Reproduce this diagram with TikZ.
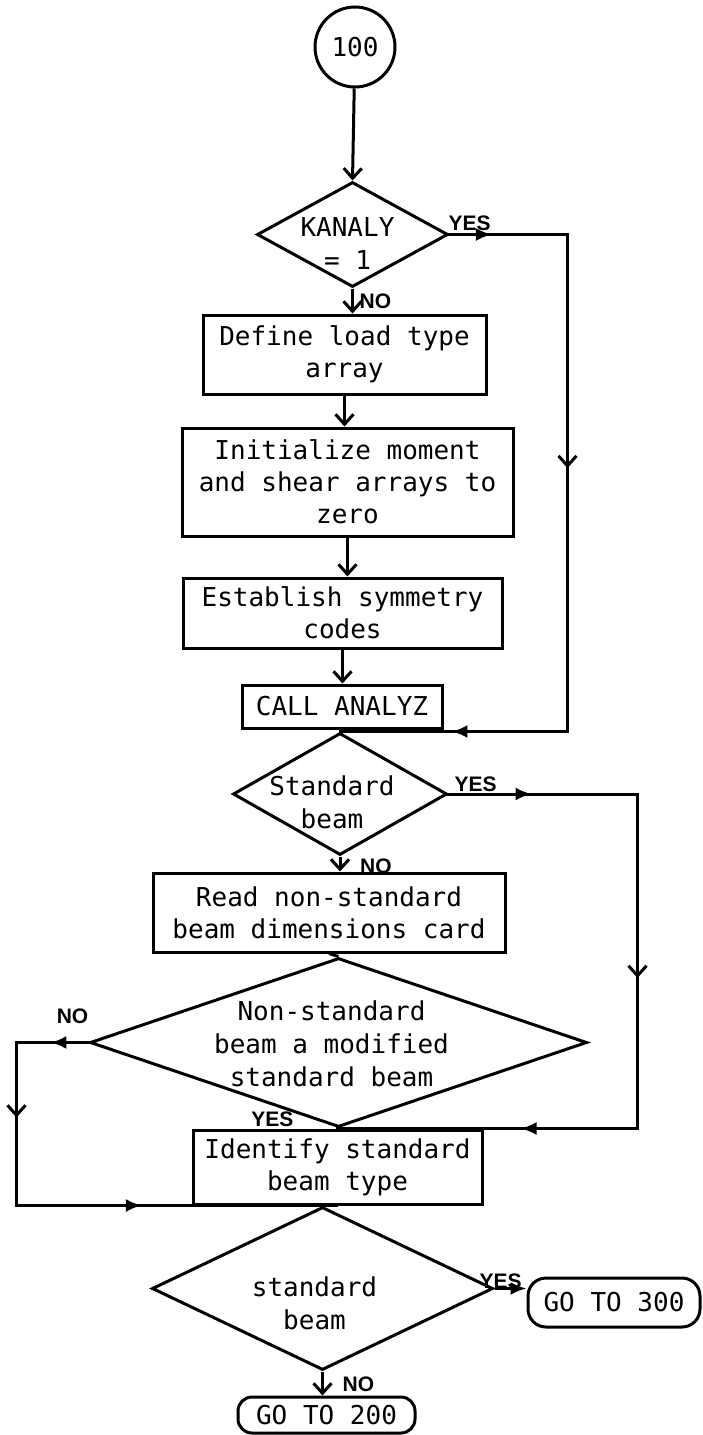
\documentclass[tikz,border=0pt]{standalone}
\usepackage{fontspec}
\setmonofont{DejaVu Sans Mono}
\setsansfont{Liberation Sans}
\usetikzlibrary{arrows.meta}
\usetikzlibrary{shapes.geometric}
\usetikzlibrary{decorations.markings}
\usetikzlibrary{positioning}
\tikzset{
    flow box/.style={
        draw,
        rectangle,
        line width=3pt,
        align=center,
        inner sep=0pt,
        font=\ttfamily\fontsize{26}{32}\selectfont
    },
    decision/.style={
        draw,
        diamond,
        line width=3pt,
        inner sep=0pt
    },
    decision text/.style={
        align=center,
        inner sep=0pt,
        font=\ttfamily\fontsize{26}{33}\selectfont
    },
    terminal/.style={
        flow box,
        rounded corners=#1
    },
    answer/.style={
        inner sep=0pt,
        font=\sffamily\bfseries\fontsize{21}{21}\selectfont
    },
    plain line/.style={line width=3pt},
    flow/.style={plain line, -{Straight Barb[length=10pt,width=18pt]}},
    fill tip/.style={plain line, -{Latex[length=16pt,width=13pt]}},
    back line/.style={plain line, line cap=rect},
    mid fill/.style={
        postaction={decorate},
        decoration={markings,
            mark=at position #1 with {\arrow{Latex[length=16pt,width=13pt]}}}
    },
    mid barb/.style={
        postaction={decorate},
        decoration={markings,
            mark=at position #1 with {\arrow{Straight Barb[length=10pt,width=18pt]}}}
    }
}

\begin{document}
\begin{tikzpicture}[x=1pt,y=-1pt]
    \useasboundingbox (0,0) rectangle (702,1435);
    \node[flow box,circle,minimum size=80pt] (start) at (355,47) {100};
    \node[decision,minimum width=191pt,minimum height=105pt] (kanaly) at (352.5,234.5) {};
    \node[decision text] (kanaly-t) at ([shift={(-5,9)}]kanaly.center) {KANALY\\= 1};
    \node[flow box,minimum width=283pt,minimum height=79pt] (define) at (344.5,354.5) {Define load type\\array};
    \node[flow box,minimum width=331pt,minimum height=108pt] (init) at (347.5,482) {Initialize moment\\and shear arrays to\\zero};
    \node[flow box,minimum width=319pt,minimum height=70pt] (symm) at (342.5,613) {Establish symmetry\\codes};
    \node[flow box,minimum width=200pt,minimum height=43pt] (analyz) at (342,706.5) {CALL ANALYZ};
    \node[decision,minimum width=214pt,minimum height=122pt] (std1) at (340,794) {};
    \node[decision text] (std1-t) at ([shift={(-8,8)}]std1.center) {Standard\\beam};
    \node[flow box,minimum width=352pt,minimum height=79pt] (read) at (329,912.5) {Read non-standard\\beam dimensions card};
    \node[decision,minimum width=497pt,minimum height=169pt] (modif) at (338.5,1042.5) {};
    \node[decision text] (modif-t) at ([shift={(-7,1.5)}]modif.center) {Non-standard\\beam a modified\\standard beam};
    \node[flow box,minimum width=289pt,minimum height=74pt] (ident) at (337.5,1167) {Identify standard\\beam type};
    \node[decision,minimum width=341pt,minimum height=163pt] (std2) at (322.5,1288.5) {};
    \node[decision text] (std2-t) at ([shift={(-8,15)}]std2.center) {standard\\beam};
    \node[terminal=18pt,minimum width=172pt,minimum height=49pt] (go300) at (614,1302.5) {GO TO 300};
    \node[terminal=14pt,minimum width=177pt,minimum height=36pt] (go200) at (326.5,1415) {GO TO 200};

    % yes / no
    \node[answer,above right=4pt and -1pt of kanaly.east] (kanaly-yes) {YES};
    \node[answer,below right=5pt and 7pt of kanaly.south] (kanaly-no) {NO};
    \node[answer,above right=2pt and 6pt of std1.east] (std1-yes) {YES};
    \node[answer,below right=2pt and 20pt of std1.south] (std1-no) {NO};
    \node[answer,above left=19pt and 0pt of modif.west] (modif-no) {NO};
    \node[answer,above left=2pt and 45pt of modif.south] (modif-yes) {YES};
    \node[answer,above right=0pt and -15pt of std2.east] (std2-yes) {YES};
    \node[answer,below right=5pt and 20pt of std2.south] (std2-no) {NO};

    % main line
    \draw[flow] (start) -- (kanaly.north);
    \draw[flow] (kanaly.south) -- (kanaly.south |- define.north);
    \draw[flow] (define.south) -- (define.south |- init.north);
    \draw[flow] (init.south) -- (init.south |- symm.north);
    \draw[flow] (symm.south) -- (symm.south |- analyz.north);
    \draw[plain line] (analyz.south) -- (std1.north);
    \draw[flow] (std1.south) -- (std1.south |- read.north);
    \draw[plain line] (read.south) -- (modif.north);
    \draw[plain line] (ident.south) -- (std2.north);
    \draw[fill tip] (std2.east) -- (std2.east -| go300.west);
    \draw[flow] (std2.south) -- (std2.south |- go200.north);

    % loops
    \coordinate (loop1-a) at ([xshift=118pt]kanaly.east);
    \coordinate (loop1-b) at (loop1-a |- std1.north);
    \draw[back line,mid fill=0.36] (kanaly.east) -- (loop1-a);
    \draw[back line,mid barb=0.47] (loop1-a) -- (loop1-b);
    \draw[back line,mid fill=0.51] (loop1-b) -- (std1.north);

    \coordinate (loop2-a) at ([xshift=189pt]std1.east);
    \coordinate (loop2-b) at (loop2-a |- ident.north);
    \draw[back line,mid fill=0.44] (std1.east) -- (loop2-a);
    \draw[back line,mid barb=0.55] (loop2-a) -- (loop2-b);
    \draw[back line,mid fill=0.39] (loop2-b) -- (ident.north);

    \coordinate (loop3-a) at ([xshift=-72pt]modif.west);
    \coordinate (loop3-b) at (loop3-a |- std2.north);
    \draw[back line,mid fill=0.53] (modif.west) -- (loop3-a);
    \draw[back line,mid barb=0.46] (loop3-a) -- (loop3-b);
    \draw[back line,mid fill=0.41] (loop3-b) -- (std2.north);
\end{tikzpicture}
\end{document}
